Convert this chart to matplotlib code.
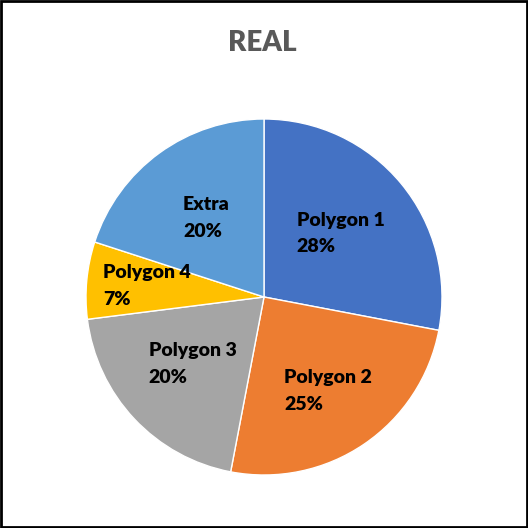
import matplotlib.pyplot as plt
import numpy as np
from matplotlib.patches import Rectangle

labels = ['Polygon 1', 'Polygon 2', 'Polygon 3', 'Polygon 4', 'Extra']
values = [28, 25, 20, 7, 20]
colors = ['#4472C4', '#ED7D31', '#A5A5A5', '#FFC000', '#5B9BD5']
label_r = [0.56, 0.64, 0.55, 0.66, 0.55]

plt.rcParams['font.family'] = ['Lato', 'DejaVu Sans']

fig = plt.figure(figsize=(5.28, 5.28), dpi=100)
cx, cy, R = 264, 297, 178
ax = fig.add_axes([(cx - R) / 528, (528 - cy - R) / 528, 2 * R / 528, 2 * R / 528])

wedges, _ = ax.pie(values, colors=colors, startangle=90, counterclock=False,
                   radius=1, wedgeprops=dict(edgecolor='white', linewidth=1))
ax.set_xlim(-1, 1)
ax.set_ylim(-1, 1)
ax.set_aspect('equal')
ax.axis('off')

total = sum(values)
for w, lab, v, r in zip(wedges, labels, values, label_r):
    mid = np.deg2rad((w.theta1 + w.theta2) / 2)
    ax.text(r * np.cos(mid), r * np.sin(mid), f'{lab}\n{v / total:.0%}',
            ha='center', va='center', multialignment='left',
            fontsize=14, fontweight='heavy', color='black', linespacing=1.7)

fig.text(262 / 528, 1 - 43 / 528, 'REAL', ha='center', va='center',
         fontsize=20, fontweight='heavy', color='#595959')

fig.patches.append(Rectangle((0.002, 0.002), 0.996, 0.996, transform=fig.transFigure,
                             fill=False, edgecolor='black', linewidth=2))

fig.savefig('out.png', dpi=100)
